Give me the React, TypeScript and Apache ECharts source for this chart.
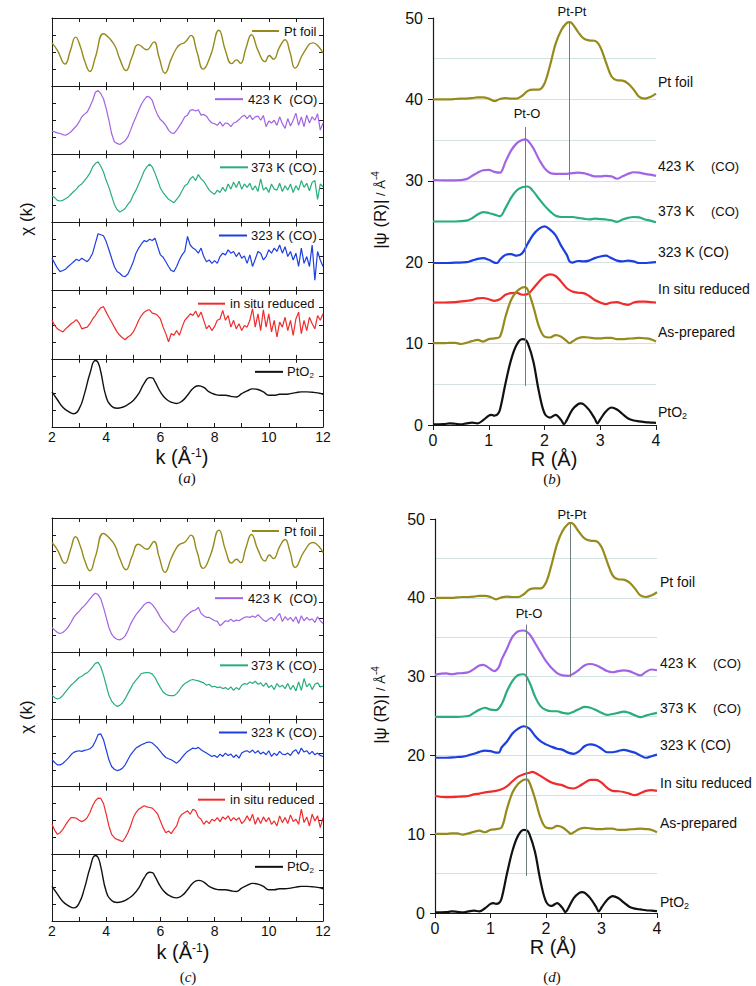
import React, { useEffect, useRef } from 'react';
import * as echarts from 'echarts';

const FONT = '"Liberation Sans", Arial, sans-serif';
const SERIF = '"Liberation Serif", "Times New Roman", serif';

const OLIVE = '#978a1c';
const PURPLE = '#a263e4';
const GREEN = '#27ae7a';
const BLUE = '#1d3fe0';
const RED = '#ef2b2b';
const BLACK = '#111111';

// ---------- k-space grid (Å^-1) ----------
const K_GRID = [
  2.0, 2.1, 2.2, 2.3, 2.4, 2.5, 2.6, 2.7, 2.8, 2.9,
  3.0, 3.1, 3.2, 3.3, 3.4, 3.5, 3.6, 3.7, 3.8, 3.9,
  4.0, 4.1, 4.2, 4.3, 4.4, 4.5, 4.6, 4.7, 4.8, 4.9,
  5.0, 5.1, 5.2, 5.3, 5.4, 5.5, 5.6, 5.7, 5.8, 5.9,
  6.0, 6.1, 6.2, 6.3, 6.4, 6.5, 6.6, 6.7, 6.8, 6.9,
  7.0, 7.1, 7.2, 7.3, 7.4, 7.5, 7.6, 7.7, 7.8, 7.9,
  8.0, 8.1, 8.2, 8.3, 8.4, 8.5, 8.6, 8.7, 8.8, 8.9,
  9.0, 9.1, 9.2, 9.3, 9.4, 9.5, 9.6, 9.7, 9.8, 9.9,
  10.0, 10.1, 10.2, 10.3, 10.4, 10.5, 10.6, 10.7, 10.8, 10.9,
  11.0, 11.1, 11.2, 11.3, 11.4, 11.5, 11.6, 11.7, 11.8, 11.9,
  12.0,
];

// Pt foil chi(k) (normalised), [k, chi]
const PT_FOIL_CHI = [
  [2.0, 0.27], [2.2, 0.05], [2.48, -0.35], [2.68, 0.05], [2.87, 0.44], [3.05, 0.15], [3.2, -0.25],
  [3.4, -0.57], [3.6, -0.15], [3.9, 0.54], [4.1, 0.42], [4.33, 0.17], [4.5, -0.2], [4.73, -0.54],
  [4.95, -0.15], [5.19, 0.22], [5.5, 0.07], [5.76, 0.3], [5.95, -0.15], [6.17, -0.62], [6.4, -0.2],
  [6.6, 0.12], [6.72, 0.22], [6.9, 0.28], [7.13, 0.49], [7.35, 0.0], [7.58, -0.5], [7.85, -0.1],
  [8.16, 0.64], [8.4, 0.05], [8.63, -0.34], [8.81, -0.23], [8.96, -0.33], [9.15, 0.1], [9.36, 0.51],
  [9.6, 0.05], [9.86, -0.28], [10.02, -0.1], [10.17, -0.21], [10.4, 0.15], [10.6, 0.36], [10.78, 0.0],
  [10.97, -0.47], [11.3, 0.0], [11.64, 0.27], [11.85, 0.15], [12.0, -0.03],
];

// PtO2 chi(k), [k, chi]
const PTO2_CHI = [
  [2.0, 0.03], [2.2, -0.2], [2.4, -0.42], [2.6, -0.54], [2.8, -0.61], [3.0, -0.47], [3.2, -0.02],
  [3.4, 0.57], [3.6, 0.95], [3.7, 0.89], [3.8, 0.62], [4.0, -0.12], [4.2, -0.39], [4.4, -0.45],
  [4.6, -0.42], [4.8, -0.34], [5.0, -0.22], [5.2, -0.02], [5.4, 0.28], [5.6, 0.45], [5.7, 0.44],
  [5.8, 0.33], [6.0, 0.03], [6.2, -0.17], [6.4, -0.27], [6.6, -0.31], [6.8, -0.24], [7.0, -0.07],
  [7.2, 0.13], [7.4, 0.21], [7.6, 0.16], [7.8, 0.03], [8.0, -0.04], [8.2, -0.07], [8.4, -0.07],
  [8.6, -0.1], [8.8, -0.12], [9.0, -0.02], [9.2, 0.06], [9.4, 0.12], [9.6, 0.1], [9.8, 0.03],
  [10.0, -0.07], [10.2, -0.07], [10.4, -0.04], [10.6, -0.04], [10.8, -0.02], [11.0, 0.01],
  [11.2, 0.03], [11.4, 0.03], [11.6, 0.02], [11.8, 0.0], [12.0, -0.04],
];

// panel (a) chi(k) on K_GRID
const A_423 = [
  -0.32, -0.34, -0.37, -0.39, -0.42, -0.44, -0.40, -0.34, -0.25, -0.17,
  -0.05, 0.10, 0.18, 0.24, 0.40, 0.58, 0.82, 0.87, 0.78, 0.63,
  0.34, 0.00, -0.39, -0.63, -0.68, -0.71, -0.66, -0.60, -0.49, -0.29,
  -0.08, 0.10, 0.29, 0.47, 0.60, 0.70, 0.68, 0.58, 0.34, 0.15,
  0.02, -0.05, -0.15, -0.29, -0.37, -0.39, -0.29, -0.17, -0.05, 0.10,
  0.15, 0.29, 0.31, 0.27, 0.31, 0.15, 0.17, 0.12, 0.00, -0.08,
  -0.10, -0.15, -0.05, -0.17, -0.08, -0.10, -0.19, -0.08, -0.05, 0.02,
  0.10, 0.15, 0.05, 0.15, 0.02, 0.10, 0.12, 0.00, 0.14, -0.19,
  -0.02, -0.08, 0.00, -0.15, 0.10, -0.10, -0.24, 0.05, -0.17, 0.00,
  0.21, -0.15, 0.10, -0.19, 0.15, -0.08, 0.10, 0.00, 0.19, -0.29,
  -0.08,
];
const A_373 = [
  -0.22, -0.27, -0.35, -0.37, -0.35, -0.30, -0.25, -0.17, -0.09, -0.02,
  0.08, 0.13, 0.23, 0.33, 0.45, 0.63, 0.73, 0.78, 0.65, 0.48,
  0.23, 0.03, -0.22, -0.47, -0.62, -0.69, -0.65, -0.59, -0.47, -0.37,
  -0.19, -0.05, 0.13, 0.31, 0.51, 0.63, 0.71, 0.63, 0.45, 0.23,
  0.01, -0.12, -0.22, -0.32, -0.37, -0.42, -0.32, -0.22, -0.07, 0.08,
  0.13, 0.28, 0.35, 0.23, 0.41, 0.28, 0.21, 0.08, -0.05, -0.12,
  -0.17, -0.05, -0.12, 0.03, -0.09, 0.13, -0.02, 0.18, 0.03, 0.21,
  -0.02, 0.13, 0.03, 0.15, -0.05, 0.08, -0.09, 0.28, -0.05, 0.03,
  -0.12, 0.13, -0.02, -0.05, 0.15, -0.09, 0.08, -0.05, 0.13, -0.12,
  0.08, -0.05, 0.23, 0.03, 0.15, -0.07, 0.18, 0.23, -0.32, 0.13,
  0.05,
];
const A_323 = [
  -0.05, -0.20, -0.34, -0.44, -0.41, -0.37, -0.29, -0.22, -0.15, -0.08,
  -0.12, -0.05, -0.10, -0.15, -0.05, 0.10, 0.39, 0.67, 0.64, 0.61,
  0.44, 0.20, -0.05, -0.29, -0.44, -0.49, -0.57, -0.59, -0.51, -0.34,
  -0.15, 0.10, 0.25, 0.37, 0.47, 0.44, 0.51, 0.47, 0.54, 0.29,
  0.05, -0.02, -0.15, -0.29, -0.41, -0.44, -0.29, -0.10, 0.05, 0.15,
  0.59, 0.34, 0.25, 0.20, 0.10, 0.25, 0.00, -0.15, -0.10, -0.20,
  -0.12, -0.20, 0.00, 0.10, 0.05, 0.20, 0.10, 0.15, 0.00, 0.12,
  -0.05, 0.02, -0.20, 0.05, -0.29, -0.08, 0.15, 0.10, -0.10, 0.00,
  0.20, 0.10, 0.25, 0.15, 0.34, 0.10, 0.29, 0.00, 0.15, -0.10,
  0.10, -0.29, 0.25, -0.20, 0.00, -0.29, 0.34, -0.69, 0.15, -0.10,
  -0.29,
];
const A_ISR = [
  0.13, -0.02, -0.12, -0.17, -0.21, -0.12, -0.05, 0.03, 0.08, 0.15,
  0.05, -0.12, -0.09, -0.07, 0.03, 0.17, 0.27, 0.40, 0.50, 0.53,
  0.37, 0.22, 0.08, -0.07, -0.21, -0.31, -0.38, -0.44, -0.36, -0.31,
  -0.21, -0.05, 0.13, 0.27, 0.37, 0.42, 0.44, 0.34, 0.32, 0.27,
  0.17, -0.07, -0.26, -0.50, -0.26, -0.31, -0.17, -0.31, -0.07, 0.13,
  0.22, 0.32, 0.27, 0.40, 0.22, 0.37, 0.13, -0.12, -0.02, -0.17,
  -0.05, 0.13, 0.17, 0.42, 0.13, 0.27, -0.07, 0.13, -0.12, 0.03,
  -0.17, -0.02, -0.07, 0.13, 0.47, -0.07, 0.32, -0.17, 0.44, -0.07,
  0.32, -0.21, 0.13, -0.36, 0.08, -0.07, 0.22, -0.17, 0.13, -0.31,
  0.17, 0.37, -0.26, 0.13, -0.17, 0.22, 0.03, -0.12, 0.27, 0.13,
  0.32,
];

// panel (c) chi(k) on K_GRID
const C_423 = [
  -0.26, -0.34, -0.41, -0.44, -0.41, -0.34, -0.24, -0.11, 0.04, 0.14,
  0.22, 0.32, 0.39, 0.49, 0.59, 0.69, 0.76, 0.72, 0.59, 0.34,
  0.04, -0.26, -0.46, -0.56, -0.61, -0.63, -0.59, -0.51, -0.36, -0.16,
  -0.01, 0.12, 0.22, 0.32, 0.42, 0.48, 0.49, 0.42, 0.32, 0.19,
  0.04, -0.08, -0.16, -0.26, -0.36, -0.41, -0.34, -0.21, -0.06, 0.04,
  0.12, 0.19, 0.24, 0.26, 0.34, 0.16, 0.09, 0.04, 0.04, -0.01,
  -0.06, -0.08, -0.21, -0.14, -0.06, -0.08, -0.01, -0.08, -0.04, -0.06,
  -0.01, 0.04, 0.06, 0.04, 0.08, 0.04, 0.12, 0.04, -0.04, -0.08,
  -0.01, 0.04, -0.06, 0.06, 0.16, -0.08, 0.06, -0.04, 0.04, -0.08,
  0.06, -0.14, 0.09, -0.06, 0.04, -0.04, 0.00, -0.11, 0.06, -0.06,
  -0.14,
];
const C_373 = [
  -0.28, -0.35, -0.39, -0.36, -0.28, -0.18, -0.08, 0.02, 0.09, 0.17,
  0.25, 0.29, 0.35, 0.39, 0.47, 0.57, 0.67, 0.70, 0.57, 0.32,
  0.02, -0.28, -0.45, -0.55, -0.61, -0.58, -0.51, -0.38, -0.23, -0.08,
  0.07, 0.17, 0.27, 0.37, 0.39, 0.40, 0.39, 0.35, 0.25, 0.09,
  -0.05, -0.18, -0.25, -0.28, -0.29, -0.29, -0.23, -0.13, -0.01, 0.07,
  0.12, 0.17, 0.19, 0.17, 0.15, 0.12, 0.09, 0.02, 0.05, -0.03,
  -0.01, -0.05, -0.03, -0.08, -0.05, -0.11, -0.03, -0.13, -0.05, -0.11,
  0.02, 0.07, 0.05, 0.12, 0.07, 0.14, 0.05, 0.09, -0.01, 0.09,
  -0.05, 0.02, -0.11, 0.07, -0.03, 0.02, -0.08, 0.07, -0.11, 0.02,
  -0.15, 0.12, -0.13, 0.22, -0.03, 0.07, -0.11, 0.05, 0.09, -0.03,
  -0.01,
];
const C_323 = [
  -0.20, -0.28, -0.35, -0.35, -0.31, -0.23, -0.15, -0.05, 0.02, 0.05,
  0.07, 0.05, 0.08, 0.10, 0.13, 0.20, 0.35, 0.55, 0.57, 0.40,
  0.10, -0.20, -0.40, -0.48, -0.52, -0.50, -0.45, -0.35, -0.20, -0.05,
  0.05, 0.15, 0.20, 0.25, 0.28, 0.32, 0.33, 0.30, 0.23, 0.15,
  0.05, -0.05, -0.13, -0.17, -0.20, -0.25, -0.30, -0.23, -0.13, -0.03,
  0.05, 0.10, 0.15, 0.13, 0.17, 0.10, 0.05, 0.00, -0.05, -0.10,
  -0.07, -0.13, -0.03, -0.10, 0.00, -0.07, -0.03, -0.13, -0.05, -0.15,
  0.00, 0.05, 0.07, 0.02, 0.09, 0.00, 0.07, -0.03, 0.03, -0.05,
  0.07, -0.10, 0.00, -0.07, 0.05, -0.03, -0.05, 0.00, -0.07, 0.05,
  0.10, -0.03, 0.15, 0.03, 0.07, -0.03, 0.05, -0.05, 0.00, -0.07,
  -0.10,
];
const C_ISR = [
  -0.12, -0.30, -0.42, -0.37, -0.27, -0.14, -0.02, 0.08, 0.08, 0.06,
  0.00, -0.04, 0.00, 0.08, 0.23, 0.43, 0.58, 0.66, 0.65, 0.50,
  0.18, -0.17, -0.42, -0.52, -0.57, -0.60, -0.64, -0.52, -0.37, -0.17,
  0.08, 0.23, 0.33, 0.38, 0.43, 0.40, 0.38, 0.36, 0.28, 0.18,
  -0.02, -0.22, -0.37, -0.32, -0.40, -0.27, -0.17, 0.08, 0.18, 0.23,
  0.28, 0.18, 0.33, 0.28, 0.10, 0.03, -0.12, -0.02, -0.10, 0.03,
  -0.02, 0.08, -0.04, 0.10, 0.03, 0.13, -0.02, 0.08, 0.00, 0.08,
  -0.10, -0.02, 0.13, -0.02, 0.18, -0.12, 0.08, -0.10, 0.10, -0.04,
  0.08, -0.12, -0.02, -0.17, 0.13, -0.07, 0.08, -0.10, 0.16, -0.04,
  0.03, -0.12, 0.33, -0.07, 0.10, -0.17, 0.18, -0.02, 0.13, -0.22,
  0.08,
];

// ---------- R-space |psi(R)| (offset curves), [R, value] ----------
const FT_PTFOIL = [
  [0, 40.0], [0.1, 40.0], [0.2, 40.0], [0.3, 40.0], [0.4, 40.05], [0.5, 40.1], [0.6, 40.1], [0.7, 40.15],
  [0.8, 40.25], [0.9, 40.25], [1.0, 40.1], [1.1, 39.8], [1.2, 40.05], [1.3, 40.15], [1.4, 40.1], [1.5, 40.1],
  [1.6, 40.45], [1.7, 41.05], [1.8, 41.2], [1.9, 41.2], [2.0, 41.95], [2.1, 44.2], [2.2, 46.85], [2.3, 48.5],
  [2.4, 49.4], [2.45, 49.5], [2.5, 49.3], [2.6, 48.3], [2.7, 47.5], [2.8, 47.25], [2.9, 47.2], [3.0, 46.45],
  [3.1, 44.6], [3.2, 42.85], [3.3, 42.35], [3.4, 42.3], [3.5, 41.95], [3.6, 41.2], [3.7, 40.3], [3.8, 40.1],
  [3.9, 40.3], [4.0, 40.7],
];
const FT_423_B = [
  [0, 30.1], [0.2, 30.05], [0.4, 30.05], [0.6, 30.2], [0.7, 30.6], [0.8, 31.0], [0.9, 31.3], [1.0, 31.35],
  [1.1, 31.1], [1.2, 31.0], [1.3, 32.35], [1.4, 33.7], [1.5, 34.6], [1.6, 35.0], [1.65, 35.1], [1.7, 34.95],
  [1.8, 34.0], [1.9, 32.65], [2.0, 31.55], [2.1, 30.95], [2.2, 30.85], [2.3, 30.85], [2.4, 30.85], [2.5, 30.95],
  [2.6, 31.0], [2.7, 30.95], [2.8, 30.75], [2.9, 30.55], [3.0, 30.55], [3.1, 30.6], [3.2, 30.55], [3.3, 30.25],
  [3.4, 30.55], [3.5, 30.85], [3.6, 31.05], [3.7, 31.0], [3.8, 30.85], [3.9, 30.75], [4.0, 30.6],
];
const FT_373_B = [
  [0, 25.0], [0.2, 25.0], [0.4, 25.0], [0.6, 25.1], [0.7, 25.4], [0.8, 25.85], [0.9, 26.15], [1.0, 26.05],
  [1.1, 25.85], [1.2, 25.65], [1.3, 26.65], [1.4, 27.9], [1.5, 28.8], [1.6, 29.2], [1.7, 29.3], [1.8, 28.7],
  [1.9, 27.8], [2.0, 26.95], [2.1, 26.25], [2.2, 25.7], [2.3, 25.55], [2.4, 25.55], [2.5, 25.55], [2.6, 25.45],
  [2.7, 25.35], [2.8, 25.25], [2.9, 25.35], [3.0, 25.3], [3.1, 25.25], [3.2, 25.15], [3.3, 24.95], [3.4, 25.25],
  [3.5, 25.45], [3.6, 25.55], [3.7, 25.5], [3.8, 25.25], [3.9, 25.1], [4.0, 24.9],
];
const FT_323_B = [
  [0, 19.9], [0.2, 19.9], [0.4, 19.95], [0.6, 20.0], [0.7, 20.2], [0.8, 20.4], [0.9, 20.5], [1.0, 20.3],
  [1.1, 19.95], [1.15, 19.9], [1.2, 20.3], [1.3, 20.9], [1.4, 21.0], [1.5, 20.8], [1.6, 21.1], [1.7, 22.3],
  [1.8, 23.4], [1.9, 24.1], [2.0, 24.4], [2.1, 24.0], [2.2, 23.3], [2.3, 22.0], [2.4, 20.9], [2.45, 20.1],
  [2.5, 19.95], [2.6, 20.15], [2.7, 20.1], [2.8, 20.2], [2.9, 20.5], [3.0, 20.7], [3.1, 20.8], [3.2, 20.5],
  [3.3, 20.2], [3.4, 20.1], [3.5, 20.2], [3.6, 20.1], [3.7, 19.9], [3.8, 19.9], [3.9, 19.95], [4.0, 20.0],
];
const FT_ISR_B = [
  [0, 15.05], [0.2, 15.05], [0.4, 15.1], [0.6, 15.25], [0.7, 15.35], [0.8, 15.55], [0.9, 15.6], [1.0, 15.45],
  [1.1, 15.25], [1.2, 15.45], [1.3, 16.0], [1.4, 16.2], [1.5, 16.25], [1.6, 16.0], [1.7, 16.1], [1.8, 16.8],
  [1.9, 17.6], [2.0, 18.25], [2.1, 18.5], [2.2, 18.3], [2.3, 17.6], [2.4, 16.8], [2.5, 16.4], [2.6, 16.25],
  [2.7, 16.2], [2.8, 15.85], [2.9, 15.35], [3.0, 15.05], [3.1, 14.85], [3.2, 15.05], [3.3, 15.1], [3.4, 14.9],
  [3.5, 14.75], [3.6, 15.05], [3.7, 15.15], [3.8, 15.15], [3.9, 15.1], [4.0, 15.05],
];
const FT_ASP = [
  [0, 10.05], [0.2, 10.05], [0.3, 10.1], [0.4, 10.1], [0.5, 9.95], [0.6, 10.1], [0.7, 10.3], [0.8, 10.45],
  [0.9, 10.25], [1.0, 10.55], [1.1, 10.65], [1.2, 10.85], [1.3, 13.3], [1.4, 15.35], [1.5, 16.4], [1.6, 16.9],
  [1.65, 16.95], [1.7, 16.6], [1.8, 14.55], [1.9, 12.1], [2.0, 10.85], [2.1, 10.75], [2.2, 11.05], [2.3, 10.85],
  [2.4, 10.3], [2.45, 10.05], [2.5, 10.25], [2.6, 10.65], [2.7, 10.8], [2.8, 10.75], [2.9, 10.65], [3.0, 10.65],
  [3.1, 10.7], [3.2, 10.7], [3.3, 10.55], [3.4, 10.55], [3.5, 10.6], [3.6, 10.65], [3.7, 10.7], [3.8, 10.65],
  [3.9, 10.55], [4.0, 10.25],
];
const FT_PTO2 = [
  [0, 0.08], [0.1, 0.08], [0.2, 0.1], [0.3, 0.2], [0.4, 0.15], [0.5, 0.08], [0.6, 0.2], [0.7, 0.3],
  [0.8, 0.2], [0.9, 0.6], [1.0, 1.15], [1.05, 1.25], [1.1, 1.15], [1.15, 1.25], [1.2, 1.85], [1.3, 5.1],
  [1.4, 8.0], [1.5, 9.85], [1.6, 10.55], [1.65, 10.5], [1.7, 10.05], [1.8, 7.8], [1.9, 4.1], [2.0, 1.45],
  [2.1, 0.9], [2.2, 1.25], [2.3, 0.6], [2.35, 0.1], [2.4, 0.6], [2.5, 1.9], [2.6, 2.55], [2.65, 2.65],
  [2.7, 2.55], [2.8, 1.85], [2.9, 0.8], [2.95, 0.2], [3.0, 0.7], [3.1, 1.65], [3.2, 2.15], [3.3, 1.9],
  [3.4, 1.35], [3.5, 0.8], [3.6, 0.55], [3.7, 0.45], [3.8, 0.35], [3.9, 0.3], [4.0, 0.25],
];
const FT_423_D = [
  [0, 30.25], [0.2, 30.4], [0.3, 30.3], [0.4, 30.4], [0.5, 30.45], [0.6, 30.55], [0.7, 30.95], [0.8, 31.4],
  [0.87, 31.5], [0.95, 31.2], [1.07, 30.7], [1.15, 31.2], [1.2, 32.15], [1.3, 33.6], [1.4, 35.1], [1.5, 35.75],
  [1.6, 35.85], [1.7, 35.4], [1.8, 34.3], [1.9, 33.1], [2.0, 31.95], [2.1, 31.1], [2.2, 30.45], [2.3, 30.15],
  [2.4, 30.1], [2.5, 30.4], [2.6, 30.9], [2.7, 31.45], [2.8, 31.6], [2.9, 31.45], [3.0, 31.1], [3.1, 30.7],
  [3.2, 30.55], [3.3, 30.7], [3.4, 30.8], [3.5, 30.7], [3.6, 30.4], [3.7, 30.15], [3.8, 30.6], [3.9, 30.9],
  [4.0, 30.8],
];
const FT_373_D = [
  [0, 24.9], [0.2, 24.9], [0.4, 24.9], [0.6, 25.0], [0.7, 25.4], [0.8, 25.8], [0.9, 26.05], [1.0, 25.8],
  [1.1, 25.75], [1.2, 26.5], [1.3, 28.2], [1.4, 29.5], [1.5, 30.2], [1.6, 30.3], [1.7, 29.3], [1.8, 27.5],
  [1.9, 26.25], [2.0, 25.75], [2.1, 25.6], [2.2, 25.6], [2.3, 25.4], [2.4, 25.3], [2.5, 25.55], [2.6, 25.9],
  [2.7, 26.15], [2.8, 26.05], [2.9, 25.75], [3.0, 25.4], [3.1, 25.15], [3.2, 25.25], [3.3, 25.4], [3.4, 25.55],
  [3.5, 25.4], [3.6, 25.1], [3.7, 24.85], [3.8, 25.05], [3.9, 25.25], [4.0, 25.4],
];
const FT_323_D = [
  [0, 19.7], [0.2, 19.7], [0.4, 19.8], [0.5, 19.85], [0.6, 20.0], [0.7, 20.2], [0.8, 20.45], [0.9, 20.6],
  [1.0, 20.55], [1.1, 20.35], [1.15, 20.35], [1.2, 21.0], [1.3, 21.8], [1.4, 22.8], [1.5, 23.4], [1.6, 23.7],
  [1.7, 23.4], [1.8, 22.5], [1.9, 21.8], [2.0, 21.4], [2.1, 21.1], [2.2, 20.85], [2.3, 20.7], [2.4, 20.35],
  [2.5, 20.2], [2.6, 20.55], [2.7, 21.2], [2.8, 21.4], [2.9, 21.25], [3.0, 20.85], [3.1, 20.4], [3.2, 20.4],
  [3.3, 20.55], [3.4, 20.7], [3.5, 20.55], [3.6, 20.35], [3.7, 20.0], [3.8, 19.7], [3.9, 19.9], [4.0, 20.1],
];
const FT_ISR_D = [
  [0, 14.85], [0.2, 14.7], [0.4, 14.75], [0.6, 14.85], [0.7, 15.05], [0.8, 15.15], [0.9, 15.3], [1.0, 15.4],
  [1.1, 15.5], [1.2, 15.7], [1.3, 16.1], [1.4, 16.75], [1.5, 17.3], [1.6, 17.6], [1.7, 17.8], [1.75, 17.9],
  [1.8, 17.8], [1.9, 17.4], [2.0, 16.95], [2.1, 16.55], [2.2, 16.35], [2.3, 16.2], [2.4, 15.9], [2.5, 15.8],
  [2.6, 16.1], [2.7, 16.55], [2.8, 16.9], [2.9, 16.9], [3.0, 16.55], [3.1, 15.9], [3.2, 15.5], [3.3, 15.45],
  [3.4, 15.35], [3.5, 15.15], [3.6, 14.95], [3.7, 15.2], [3.8, 15.5], [3.9, 15.6], [4.0, 15.5],
];

// reference lines [R, yFrom, yTo]
const PT_O_LINE_B = [1.65, 36.6, 4.8];
const PT_PT_LINE_B = [2.44, 49.5, 30.1];
const PT_O_LINE_D = [1.64, 36.6, 4.7];
const PT_PT_LINE_D = [2.43, 49.4, 29.9];

const X_TICKS_K = [2, 4, 6, 8, 10, 12];

function withK(vals: number[]) {
  return K_GRID.map((k, i) => [k, vals[i]]);
}

const AX = '#1a1a1a';

function txt(x: number, y: number, text: string, size: number, extra: any = {}) {
  return {
    type: 'text',
    x,
    y,
    silent: true,
    rotation: extra.rotation || 0,
    style: {
      text,
      fill: extra.fill || '#111',
      fontSize: size,
      fontFamily: extra.family || FONT,
      fontStyle: extra.italic ? 'italic' : 'normal',
      textAlign: extra.align || 'left',
      align: extra.align || 'left',
      textVerticalAlign: 'middle',
      verticalAlign: 'middle',
      rich: extra.rich,
    },
  };
}

function buildOption() {
  const grid: any[] = [];
  const xAxis: any[] = [];
  const yAxis: any[] = [];
  const series: any[] = [];
  const graphic: any[] = [];

  const leftPanel = (top: number, bottom: number, curves: any[]) => {
    const h = (bottom - top) / 6;
    curves.forEach((c, i) => {
      const gi = grid.length;
      const t = top + i * h;
      grid.push({ left: 52, width: 271, top: t, height: h });
      const xi = xAxis.length;
      const baseX = {
        gridIndex: gi, type: 'value', min: 2, max: 12, interval: 1,
        axisLine: { show: true, onZero: false, lineStyle: { color: AX, width: 1 } },
        axisTick: { show: true, inside: true, length: 4, lineStyle: { color: AX, width: 1 } },
        splitLine: { show: false },
      };
      xAxis.push({
        ...baseX, position: 'bottom',
        axisLabel: {
          show: i === 5, fontSize: 14, color: '#111', fontFamily: FONT, margin: 3,
          formatter: (v: number) => (X_TICKS_K.indexOf(v) >= 0 ? String(v) : ''),
        },
      });
      xAxis.push({ ...baseX, position: 'top', axisLabel: { show: false } });
      const yi = yAxis.length;
      const baseY = {
        gridIndex: gi, type: 'value', min: -1, max: 1, interval: 0.5,
        axisLine: { show: true, onZero: false, lineStyle: { color: AX, width: 1 } },
        axisTick: { show: true, inside: true, length: 4, lineStyle: { color: AX, width: 1 } },
        axisLabel: { show: false }, splitLine: { show: false },
      };
      yAxis.push({ ...baseY, position: 'left' });
      yAxis.push({ ...baseY, position: 'right' });
      series.push({
        type: 'line', name: c.name, xAxisIndex: xi, yAxisIndex: yi, data: c.data,
        showSymbol: false, smooth: c.smooth, silent: true,
        lineStyle: { color: c.color, width: c.width },
      });
      const ly = t + 13;
      graphic.push({
        type: 'line', silent: true,
        shape: { x1: c.lx1, y1: ly, x2: c.lx2, y2: ly },
        style: { stroke: c.color, lineWidth: 2 },
      });
      graphic.push(txt(c.tx, ly, c.label, 13, { rich: c.rich }));
    });
  };

  const pto2Rich = {
    a: { fontSize: 13, fontFamily: FONT, fill: '#111' },
    s: { fontSize: 8, fontFamily: FONT, fill: '#111', padding: [8, 0, 0, 0] },
  };

  const leftCurves = (d423: number[], d373: number[], d323: number[], disr: number[], isrLabel: string) => [
    { name: 'Pt foil', color: OLIVE, width: 1.4, smooth: 0.5, data: PT_FOIL_CHI, label: 'Pt foil', lx1: 252, lx2: 279, tx: 284 },
    { name: '423 K (CO)', color: PURPLE, width: 1.2, smooth: false, data: withK(d423), label: '423 K  (CO)', lx1: 215, lx2: 243, tx: 248 },
    { name: '373 K (CO)', color: GREEN, width: 1.2, smooth: false, data: withK(d373), label: '373 K (CO)', lx1: 220, lx2: 248, tx: 251 },
    { name: '323 K (CO)', color: BLUE, width: 1.2, smooth: false, data: withK(d323), label: '323 K (CO)', lx1: 219, lx2: 247, tx: 251 },
    { name: 'in situ reduced', color: RED, width: 1.2, smooth: false, data: withK(disr), label: isrLabel, lx1: 198, lx2: 225, tx: 230 },
    { name: 'PtO2', color: BLACK, width: 1.4, smooth: 0.5, data: PTO2_CHI, label: '{a|PtO}{s|2}', rich: pto2Rich, lx1: 255, lx2: 283, tx: 287 },
  ];

  leftPanel(18, 427, leftCurves(A_423, A_373, A_323, A_ISR, 'in situ reduced'));
  leftPanel(518, 921, leftCurves(C_423, C_373, C_323, C_ISR, 'in situ reduced'));

  const gridColors = ['#d2e2e2', '#d2e2e2', '#d2e2e2', '#d2e2e2', '#d2e2e2', '#d2e2e2', '#d2e2e2', '#d2e2e2', '#d2e2e2', '#d2e2e2', 'rgba(0,0,0,0)'];

  const rightPanel = (left: number, width: number, top: number, height: number, curves: any[], lines: number[][]) => {
    const gi = grid.length;
    grid.push({ left, width, top, height });
    const xi = xAxis.length;
    xAxis.push({
      gridIndex: gi, type: 'value', min: 0, max: 4, interval: 1,
      axisLine: { show: true, onZero: false, lineStyle: { color: AX, width: 1.2 } },
      axisTick: { show: true, inside: false, length: 5, lineStyle: { color: AX } },
      axisLabel: { fontSize: 16, color: '#111', fontFamily: FONT, margin: 7 },
      splitLine: { show: false },
    });
    const yi = yAxis.length;
    yAxis.push({
      gridIndex: gi, type: 'value', min: 0, max: 50, interval: 10, position: 'left',
      axisLine: { show: true, onZero: false, lineStyle: { color: AX, width: 1.2 } },
      axisTick: { show: true, inside: false, length: 5, lineStyle: { color: AX } },
      axisLabel: { fontSize: 16, color: '#111', fontFamily: FONT, margin: 10 },
      splitLine: { show: false },
    });
    yAxis.push({
      gridIndex: gi, type: 'value', min: 0, max: 50, interval: 5, position: 'left',
      axisLine: { show: false }, axisTick: { show: false }, axisLabel: { show: false },
      splitLine: { show: true, lineStyle: { color: gridColors, width: 1 } },
    });
    curves.forEach((c, i) => {
      const s: any = {
        type: 'line', name: c.name, xAxisIndex: xi, yAxisIndex: yi, data: c.data,
        showSymbol: false, smooth: 0.35, silent: true, z: 3,
        lineStyle: { color: c.color, width: 2.2 },
      };
      if (i === 0) {
        s.markLine = {
          silent: true, symbol: 'none', label: { show: false }, animation: false,
          lineStyle: { color: '#6f7f80', width: 1, type: 'solid' },
          data: lines.map((l) => [{ coord: [l[0], l[1]] }, { coord: [l[0], l[2]] }]),
        };
      }
      series.push(s);
    });
  };

  rightPanel(433, 223, 18, 407, [
    { name: 'FT Pt foil b', color: OLIVE, data: FT_PTFOIL },
    { name: 'FT 423 b', color: PURPLE, data: FT_423_B },
    { name: 'FT 373 b', color: GREEN, data: FT_373_B },
    { name: 'FT 323 b', color: BLUE, data: FT_323_B },
    { name: 'FT isr b', color: RED, data: FT_ISR_B },
    { name: 'FT asp b', color: OLIVE, data: FT_ASP },
    { name: 'FT PtO2 b', color: BLACK, data: FT_PTO2 },
  ], [PT_O_LINE_B, PT_PT_LINE_B]);

  rightPanel(435, 222, 519, 394, [
    { name: 'FT Pt foil d', color: OLIVE, data: FT_PTFOIL },
    { name: 'FT 423 d', color: PURPLE, data: FT_423_D },
    { name: 'FT 373 d', color: GREEN, data: FT_373_D },
    { name: 'FT 323 d', color: BLUE, data: FT_323_D },
    { name: 'FT isr d', color: RED, data: FT_ISR_D },
    { name: 'FT asp d', color: OLIVE, data: FT_ASP },
    { name: 'FT PtO2 d', color: BLACK, data: FT_PTO2 },
  ], [PT_O_LINE_D, PT_PT_LINE_D]);

  // right-panel labels
  const ptO2RichR = {
    a: { fontSize: 14, fontFamily: FONT, fill: '#111' },
    s: { fontSize: 9, fontFamily: FONT, fill: '#111', padding: [7, 0, 0, 0] },
  };
  const rightLabels = (x: number, ys: number[], coX: number) => {
    graphic.push(txt(x, ys[0], 'Pt foil', 14));
    graphic.push(txt(x, ys[1], '423 K', 14));
    graphic.push(txt(coX, ys[1], '(CO)', 13));
    graphic.push(txt(x, ys[2], '373 K', 14));
    graphic.push(txt(coX, ys[2], '(CO)', 13));
    graphic.push(txt(x, ys[3], '323 K (CO)', 14));
    graphic.push(txt(x, ys[4], 'In situ reduced', 14));
    graphic.push(txt(x, ys[5], 'As-prepared', 14));
    graphic.push(txt(x, ys[6], '{a|PtO}{s|2}', 14, { rich: ptO2RichR }));
  };
  rightLabels(658, [82, 166, 211, 252, 289, 332, 412], 711);
  rightLabels(660, [582, 663, 708, 745, 783, 823, 902], 713);

  graphic.push(txt(572, 11, 'Pt-Pt', 13, { align: 'center' }));
  graphic.push(txt(527, 113, 'Pt-O', 13, { align: 'center' }));
  graphic.push(txt(572, 514, 'Pt-Pt', 13, { align: 'center' }));
  graphic.push(txt(529, 613, 'Pt-O', 13, { align: 'center' }));

  // axis titles
  const kRich = {
    m: { fontSize: 20, fontFamily: FONT, fill: '#111' },
    s: { fontSize: 12, fontFamily: FONT, fill: '#111', padding: [0, 0, 8, 0] },
  };
  graphic.push(txt(182, 457, '{m|k (Å}{s|-1}{m|)}', 20, { align: 'center', rich: kRich }));
  graphic.push(txt(183, 952, '{m|k (Å}{s|-1}{m|)}', 20, { align: 'center', rich: kRich }));
  graphic.push(txt(554, 459, 'R (Å)', 20, { align: 'center' }));
  graphic.push(txt(553, 947, 'R (Å)', 20, { align: 'center' }));

  graphic.push(txt(26, 219, 'χ (k)', 17, { align: 'center', rotation: Math.PI / 2 }));
  graphic.push(txt(26, 717, 'χ (k)', 17, { align: 'center', rotation: Math.PI / 2 }));

  const psiRich = {
    m: { fontSize: 17, fontFamily: FONT, fill: '#111' },
    n: { fontSize: 13, fontFamily: FONT, fill: '#111' },
    s: { fontSize: 10, fontFamily: FONT, fill: '#111', padding: [0, 0, 10, 0] },
  };
  graphic.push(txt(380, 210, '{m||ψ (R)|}{n| / Å}{s|-4}', 17, { align: 'center', rotation: Math.PI / 2, rich: psiRich }));
  graphic.push(txt(380, 705, '{m||ψ (R)|}{n| / Å}{s|-4}', 17, { align: 'center', rotation: Math.PI / 2, rich: psiRich }));

  const capRich = {
    p: { fontSize: 15, fontFamily: SERIF, fill: '#111' },
    i: { fontSize: 15, fontFamily: SERIF, fill: '#111', fontStyle: 'italic' },
  };
  graphic.push(txt(187, 478, '{p|(}{i|a}{p|)}', 15, { align: 'center', rich: capRich }));
  graphic.push(txt(552, 479, '{p|(}{i|b}{p|)}', 15, { align: 'center', rich: capRich }));
  graphic.push(txt(188, 977, '{p|(}{i|c}{p|)}', 15, { align: 'center', rich: capRich }));
  graphic.push(txt(552, 977, '{p|(}{i|d}{p|)}', 15, { align: 'center', rich: capRich }));

  return {
    animation: false,
    backgroundColor: '#ffffff',
    textStyle: { fontFamily: FONT },
    grid, xAxis, yAxis, series, graphic,
  };
}

export default function App() {
  const ref = useRef<HTMLDivElement>(null);
  useEffect(() => {
    document.body.style.margin = '0';
    if (!ref.current) return;
    const chart = echarts.init(ref.current, undefined, { renderer: 'svg' });
    chart.setOption(buildOption() as any);
    return () => chart.dispose();
  }, []);
  return <div ref={ref} style={{ width: 756, height: 986 }} />;
}
